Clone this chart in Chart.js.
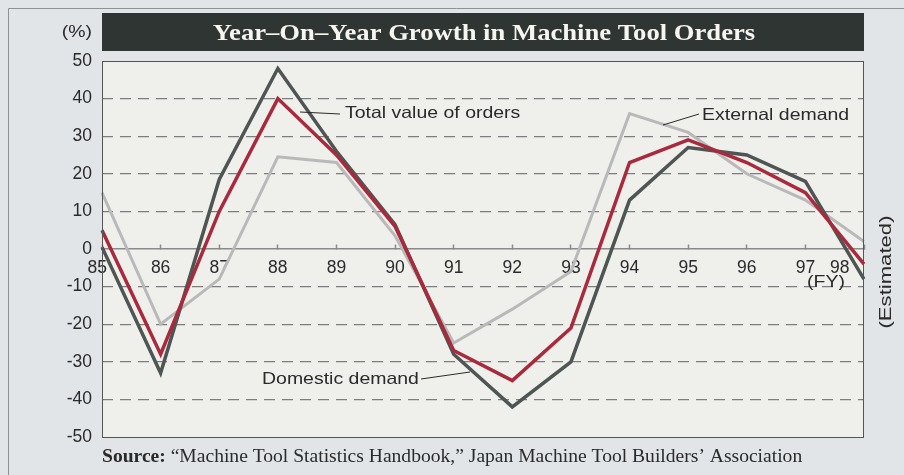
<!DOCTYPE html>
<html>
<head>
<meta charset="utf-8">
<script src="https://cdn.jsdelivr.net/npm/chart.js@4/dist/chart.umd.min.js"></script>
<style>
  html, body { margin: 0; padding: 0; background: #e1e5e8; }
  #wrap { width: 904px; height: 475px; }
</style>
</head>
<body>
<div id="wrap"><canvas id="myChart" width="904" height="475"></canvas></div>
<script>
// fiscal years (x categories)
let years = ['85', '86', '87', '88', '89', '90', '91', '92', '93', '94', '95', '96', '97', '98'];

// year-on-year growth, %
let totalOrders    = [5, -28, 10, 40, 25, 6, -27, -35, -21, 23, 29, 23, 15, -4];
let domesticDemand = [0.5, -33, 18.5, 48, 26, 6.5, -28, -42, -30, 13, 27, 25, 18, -8];
let externalDemand = [15, -20, -8, 24.5, 23, 3.5, -25, -16, -6, 36, 31, 20, 13, 2];

// y axis
let yMin = -50;
let yMax = 50;
let yStep = 10;

let sansFont = '"Liberation Sans", Arial, sans-serif';
let serifFont = '"Liberation Serif", "Times New Roman", serif';

// text drawn a little wider, like the printed original
function note(ctx, text, x, y, stretch) {
    ctx.save();
    ctx.translate(x, y);
    ctx.scale(stretch || 1, 1);
    ctx.fillText(text, 0, 0);
    ctx.restore();
}

// background, plot box, title bar and the notes around the plot
let decorPlugin = {
    id: 'decor',
    beforeDraw(chart) {
        let ctx = chart.ctx;
        let a = chart.chartArea;
        ctx.save();
        ctx.fillStyle = '#e1e5e8';
        ctx.fillRect(0, 0, chart.width, chart.height);
        // outer frame
        ctx.strokeStyle = '#8d9295';
        ctx.lineWidth = 1;
        ctx.beginPath();
        ctx.moveTo(8.5, chart.height);
        ctx.lineTo(8.5, 8.5);
        ctx.lineTo(chart.width, 8.5);
        ctx.stroke();
        // plot background
        ctx.fillStyle = '#efefec';
        ctx.fillRect(a.left, a.top, a.right - a.left, a.bottom - a.top);
        ctx.restore();
    },
    afterDraw(chart) {
        let ctx = chart.ctx;
        let a = chart.chartArea;
        ctx.save();
        // plot border
        ctx.strokeStyle = '#555';
        ctx.lineWidth = 1;
        ctx.strokeRect(a.left + 0.5, a.top + 0.5, a.right - a.left - 1, a.bottom - a.top);

        // title bar
        ctx.fillStyle = '#2f3532';
        ctx.fillRect(a.left, 13, a.right - a.left, 38);
        ctx.fillStyle = '#f5f5f2';
        ctx.font = 'bold 24px ' + serifFont;
        ctx.textAlign = 'center';
        ctx.textBaseline = 'alphabetic';
        note(ctx, 'Year\u2013On\u2013Year Growth in Machine Tool Orders', 484, 40, 1.11);

        // unit
        ctx.fillStyle = '#2a2a2a';
        ctx.font = '16.5px ' + sansFont;
        ctx.textAlign = 'right';
        ctx.textBaseline = 'middle';
        note(ctx, '(%)', 92, 32, 1.18);

        // series notes
        ctx.textAlign = 'left';
        note(ctx, 'Total value of orders', 345, 113, 1.18);
        note(ctx, 'External demand', 702, 115, 1.18);
        note(ctx, 'Domestic demand', 262, 379, 1.18);
        ctx.textAlign = 'center';
        note(ctx, '(FY)', 826, 282, 1.18);

        ctx.strokeStyle = '#2a2a2a';
        ctx.lineWidth = 1;
        ctx.beginPath();
        ctx.moveTo(300, 112); ctx.lineTo(340, 114);
        ctx.moveTo(663, 125); ctx.lineTo(699, 114);
        ctx.moveTo(421, 379); ctx.lineTo(470, 372);
        ctx.stroke();

        // rotated note on the right
        ctx.save();
        ctx.translate(886, 272);
        ctx.rotate(-Math.PI / 2);
        ctx.font = '17px ' + sansFont;
        note(ctx, '(Estimated)', 0, 0, 1.3);
        ctx.restore();

        // source line
        ctx.textAlign = 'left';
        ctx.textBaseline = 'alphabetic';
        ctx.font = 'bold 19px ' + serifFont;
        let lead = 'Source:';
        let w = ctx.measureText(lead).width * 1.03;
        note(ctx, lead, 102, 462, 1.03);
        ctx.font = '19px ' + serifFont;
        note(ctx, ' \u201CMachine Tool Statistics Handbook,\u201D Japan Machine Tool Builders\u2019 Association', 102 + w, 462, 1.03);
        ctx.restore();
    }
};

let myChart = document.getElementById('myChart').getContext('2d');

let chart1 = new Chart(myChart, {
    type: 'line',
    data: {
        labels: years,
        datasets: [
            {
                label: 'Total value of orders',
                data: totalOrders,
                borderColor: '#a82a3c',
                borderWidth: 3.5,
                order: 1
            },
            {
                label: 'Domestic demand',
                data: domesticDemand,
                borderColor: '#4e5552',
                borderWidth: 3.5,
                order: 2
            },
            {
                label: 'External demand',
                data: externalDemand,
                borderColor: '#b9b9b9',
                borderWidth: 3,
                order: 3
            }
        ]
    },
    options: {
        responsive: false,
        animation: false,
        elements: {
            point: { radius: 0 },
            line: { tension: 0, borderJoinStyle: 'miter' }
        },
        layout: {
            padding: { top: 61, bottom: 38, right: 40, left: 0 }
        },
        plugins: {
            legend: { display: false },
            tooltip: { enabled: false },
            title: { display: false }
        },
        scales: {
            x: {
                position: { y: 0 },
                offset: false,
                afterFit: function (scale) {
                    scale.height = 0;
                    scale.paddingLeft = 0;
                    scale.paddingRight = 0;
                },
                border: { display: true, color: '#8a8a8a', width: 1.5 },
                grid: {
                    drawOnChartArea: false,
                    drawTicks: true,
                    tickLength: -5,
                    tickColor: '#8a8a8a',
                    tickWidth: 1.5
                },
                ticks: {
                    color: '#2a2a2a',
                    font: { family: sansFont, size: 17.5 },
                    padding: 14,
                    maxRotation: 0,
                    autoSkip: false,
                    callback: function (value, index) {
                        let label = years[index];
                        if (index === years.length - 1) {
                            return label + '\u2007\u2007\u2007\u2007\u2007';
                        }
                        if (index === 0) {
                            return label + '\u2007';
                        }
                        return label;
                    }
                }
            },
            y: {
                min: yMin,
                max: yMax,
                afterFit: function (scale) { scale.width = 102; },
                border: { display: false, dash: [11, 7] },
                grid: {
                    drawTicks: false,
                    lineWidth: 1.2,
                    color: function (c) {
                        let v = c.tick ? c.tick.value : null;
                        if (v === 0 || v === yMin || v === yMax) return 'rgba(0,0,0,0)';
                        return '#7d7d7d';
                    }
                },
                ticks: {
                    stepSize: yStep,
                    padding: 10,
                    color: '#2a2a2a',
                    font: { family: sansFont, size: 17.5 }
                }
            }
        }
    },
    plugins: [decorPlugin]
});
</script>
</body>
</html>
